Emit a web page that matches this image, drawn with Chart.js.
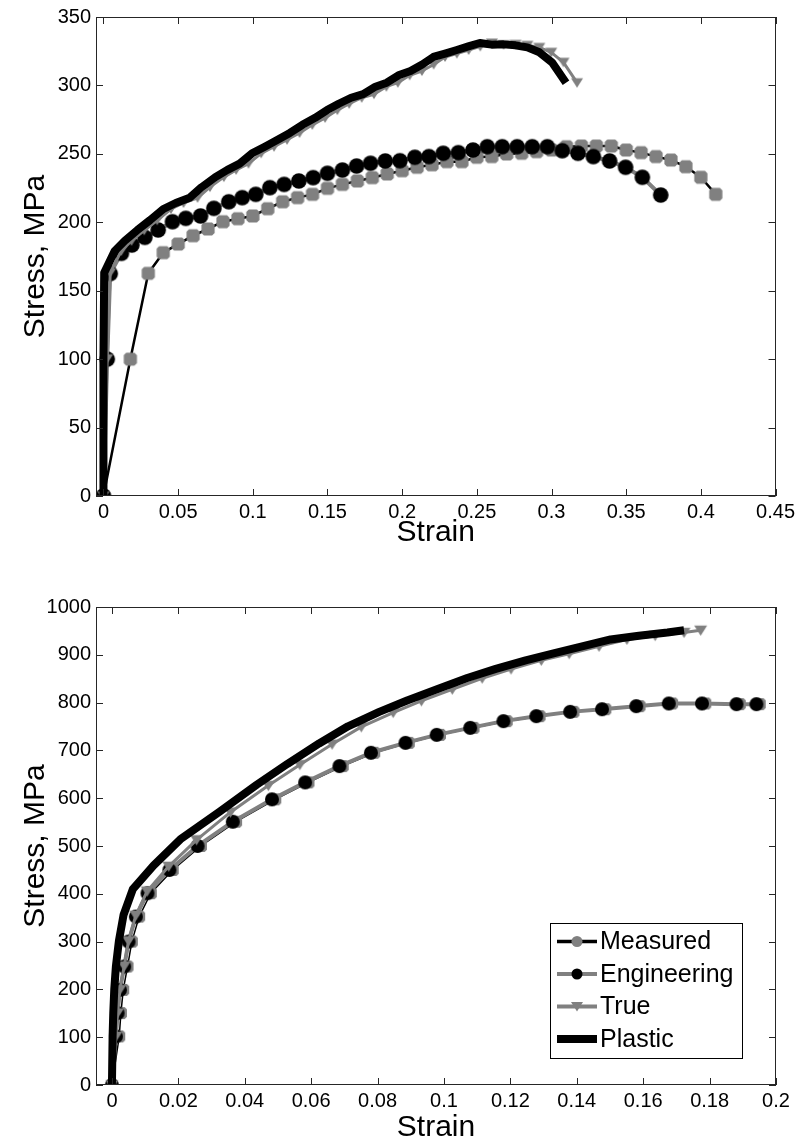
<!DOCTYPE html>
<html>
<head>
<meta charset="utf-8">
<script src="https://cdn.jsdelivr.net/npm/chart.js@4.4.1/dist/chart.umd.min.js"></script>
<style>
  body { margin: 0; background: #fff; overflow: hidden; }
  canvas { position: absolute; left: 0; }
</style>
</head>
<body>
<canvas id="topChart" width="799" height="570" style="top:0"></canvas>
<canvas id="bottomChart" width="799" height="571" style="top:570px"></canvas>
<script>
// ---- top panel (stress–strain to fracture) ----
const topMeasuredStrain = [0, 0.018, 0.030, 0.040, 0.050, 0.060, 0.070, 0.080, 0.090, 0.100, 0.110, 0.120, 0.130, 0.140, 0.150, 0.160, 0.170, 0.180, 0.190, 0.200, 0.210, 0.220, 0.230, 0.240, 0.250, 0.260, 0.270, 0.280, 0.290, 0.300, 0.310, 0.320, 0.330, 0.340, 0.350, 0.360, 0.370, 0.380, 0.390, 0.400, 0.410];
const topMeasuredStress = [0, 100, 162.7, 177.8, 184.1, 190.2, 195.1, 200.4, 202.6, 204.6, 209.9, 215.0, 218.0, 220.4, 224.8, 227.7, 230.2, 232.6, 235.3, 237.7, 240.2, 242.0, 244.3, 244.3, 247.5, 248.0, 249.9, 250.4, 251.6, 252.8, 255.2, 255.7, 255.7, 255.7, 252.8, 250.9, 248.0, 245.5, 240.6, 232.9, 220.4];

const topEngStrain = [0, 0.0025, 0.0045, 0.012, 0.019, 0.0277, 0.0366, 0.0462, 0.0551, 0.065, 0.0739, 0.0839, 0.0929, 0.102, 0.1114, 0.121, 0.1308, 0.1404, 0.150, 0.160, 0.1695, 0.1788, 0.1887, 0.1985, 0.2085, 0.2179, 0.2275, 0.2376, 0.2474, 0.257, 0.267, 0.277, 0.2871, 0.2972, 0.3072, 0.3177, 0.328, 0.3389, 0.3496, 0.3608, 0.3731];
const topEngStress = [0, 100, 162.5, 177.3, 183.4, 189, 194.4, 200.4, 202.9, 204.6, 210.2, 215, 218, 220.4, 225.3, 227.7, 230.2, 232.6, 235.8, 238.2, 241.1, 243.1, 244.8, 245, 247.5, 248, 250.4, 250.9, 252.8, 255.2, 255.2, 255.2, 255.2, 255.2, 252.3, 250.4, 248, 244.8, 240.2, 232.9, 219.9];

const topTrueStrain = [0, 0.0025, 0.0045, 0.0119, 0.0188, 0.0273, 0.036, 0.0452, 0.0536, 0.063, 0.0713, 0.0806, 0.0888, 0.0971, 0.1056, 0.1142, 0.1229, 0.1313, 0.1398, 0.1484, 0.1566, 0.1645, 0.1729, 0.1811, 0.1894, 0.1971, 0.205, 0.2132, 0.2211, 0.2287, 0.2366, 0.2445, 0.2523, 0.2601, 0.2679, 0.2759, 0.2838, 0.2918, 0.2998, 0.308, 0.3171];
const topTrueStress = [0, 100.3, 163.2, 179, 186.5, 194.2, 201.5, 209.7, 214.1, 217.9, 225.7, 233, 238.3, 242.9, 250.4, 255.2, 260.3, 265.3, 271.2, 276.3, 282, 286.6, 291, 293.6, 299.1, 302, 307.4, 310.5, 315.3, 320.8, 323.3, 325.9, 328.5, 331, 329.8, 330, 329.3, 327.8, 324.2, 316.9, 302];

const topPlasticStrain = [0, 0, 0.0005, 0.0075, 0.0143, 0.0226, 0.0311, 0.0401, 0.0484, 0.0577, 0.0658, 0.0749, 0.083, 0.0912, 0.0995, 0.108, 0.1166, 0.1248, 0.1332, 0.1417, 0.1497, 0.1575, 0.1658, 0.1739, 0.1821, 0.1897, 0.1975, 0.2056, 0.2134, 0.2209, 0.2287, 0.2366, 0.2443, 0.252, 0.2599, 0.2679, 0.2758, 0.2838, 0.2919, 0.3003, 0.3097];
const topPlasticStress = [0, 100.3, 163.2, 179, 186.5, 194.2, 201.5, 209.7, 214.1, 217.9, 225.7, 233, 238.3, 242.9, 250.4, 255.2, 260.3, 265.3, 271.2, 276.3, 282, 286.6, 291, 293.6, 299.1, 302, 307.4, 310.5, 315.3, 320.8, 323.3, 325.9, 328.5, 331, 329.8, 330, 329.3, 327.8, 324.2, 316.9, 302];

const topXTicks = [0, 0.05, 0.1, 0.15, 0.2, 0.25, 0.3, 0.35, 0.4, 0.45];
const topYTicks = [0, 50, 100, 150, 200, 250, 300, 350];

// ---- bottom panel (up to uniform elongation) ----
const botMeasuredStrain = [0, 0.0022, 0.0027, 0.0034, 0.0047, 0.006, 0.0082, 0.0117, 0.0183, 0.0268, 0.0374, 0.0492, 0.0592, 0.0695, 0.079, 0.0894, 0.0988, 0.1089, 0.1189, 0.1288, 0.139, 0.1486, 0.1589, 0.1687, 0.1787, 0.1891, 0.1951];
const botMeasuredStress = [0, 101.6, 150.4, 199, 247.8, 300, 352.3, 401.2, 449.8, 500, 550.8, 597.6, 633.1, 667.2, 695, 715.8, 732.5, 747.2, 761.2, 771.6, 780.6, 786.2, 792.5, 798.2, 798.2, 796.7, 796.7];

const botEngStrain = [0, 0.0012, 0.0017, 0.0024, 0.0037, 0.005, 0.0072, 0.0107, 0.0173, 0.0258, 0.0364, 0.0482, 0.0582, 0.0685, 0.078, 0.0884, 0.0978, 0.1079, 0.1179, 0.1278, 0.138, 0.1476, 0.1579, 0.1677, 0.1777, 0.1881, 0.1941];
const botEngStress = [0, 101.6, 150.4, 199, 247.8, 300, 352.3, 401.2, 449.8, 500, 550.8, 597.6, 633.1, 667.2, 695, 715.8, 732.5, 747.2, 761.2, 771.6, 780.6, 786.2, 792.5, 798.2, 798.2, 796.7, 796.7];

const botTrueStrain = [0, 0.0012, 0.0017, 0.0024, 0.0037, 0.005, 0.0072, 0.0106, 0.0171, 0.0255, 0.0357, 0.0471, 0.0566, 0.0663, 0.0751, 0.0847, 0.0932, 0.1025, 0.1115, 0.1202, 0.1293, 0.1377, 0.1467, 0.1551, 0.1636, 0.1723, 0.1773];
const botTrueStress = [0, 101.7, 150.6, 199.5, 248.7, 301.5, 354.8, 405.5, 457.5, 512.9, 570.8, 626.4, 670, 712.9, 749.2, 779.1, 803.5, 827.8, 851, 870.2, 888.3, 902.3, 917.6, 932.1, 940, 946.6, 951.3];

const botPlasticStrain = [0, 0.0002, 0.0004, 0.0007, 0.0012, 0.0021, 0.0035, 0.0063, 0.0125, 0.0206, 0.0325, 0.0436, 0.0529, 0.0624, 0.0711, 0.0805, 0.0889, 0.0981, 0.107, 0.1156, 0.1246, 0.133, 0.1419, 0.1502, 0.1587, 0.1673, 0.1723];
const botPlasticStress = [0, 101.7, 150.6, 199.5, 248.7, 301.5, 356, 410, 459, 514, 572, 628, 672, 714.5, 750.5, 780.5, 804.5, 828.5, 851.5, 870.5, 888.5, 903, 918, 932.1, 940, 946.6, 951.3];

const botXTicks = [0, 0.02, 0.04, 0.06, 0.08, 0.1, 0.12, 0.14, 0.16, 0.18, 0.2];
const botYTicks = [0, 100, 200, 300, 400, 500, 600, 700, 800, 900, 1000];

const seriesNames = ["Measured", "Engineering", "True", "Plastic"];

const GRAY = "#808080";
const FONT = "'Liberation Sans', Arial, Helvetica, sans-serif";
Chart.defaults.font.family = FONT;
Chart.defaults.color = "#000";

const pts = (xs, ys) => xs.map((x, i) => ({ x: x, y: ys[i] }));

// matlab-ish markers: octagon-ish square, circle, downward triangle
function drawMarker(ctx, style, r, x, y, color) {
  ctx.fillStyle = color;
  ctx.beginPath();
  if (style === "circle") {
    ctx.arc(x, y, r, 0, Math.PI * 2);
  } else if (style === "triangle") {
    ctx.moveTo(x - r, y - r * 0.75);
    ctx.lineTo(x + r, y - r * 0.75);
    ctx.lineTo(x, y + r * 0.85);
    ctx.closePath();
  } else {
    const c = r * 0.38;
    const s = r;
    ctx.moveTo(x - s + c, y - s);
    ctx.lineTo(x + s - c, y - s);
    ctx.lineTo(x + s, y - s + c);
    ctx.lineTo(x + s, y + s - c);
    ctx.lineTo(x + s - c, y + s);
    ctx.lineTo(x - s + c, y + s);
    ctx.lineTo(x - s, y + s - c);
    ctx.lineTo(x - s, y - s + c);
    ctx.closePath();
  }
  ctx.fill();
}

function markerImage(style, r, color) {
  const c = document.createElement("canvas");
  const n = Math.ceil(r * 2 + 2);
  c.width = n;
  c.height = n;
  drawMarker(c.getContext("2d"), style, r, n / 2, n / 2, color);
  return c;
}

const makeDatasets = (m, e, t, p, big) => [
  {
    label: seriesNames[0],
    data: m,
    order: 3,
    borderColor: "#000",
    borderWidth: big ? 2.5 : 1.5,
    pointStyle: markerImage("octagon", big ? 6.6 : 6, GRAY),
    pointRadius: 6,
    legendMarker: "circle",
    legendRadius: 5.5,
    legendColor: GRAY,
    legendWidth: 3.5,
  },
  {
    label: seriesNames[1],
    data: e,
    order: 2,
    borderColor: GRAY,
    borderWidth: 4,
    pointStyle: markerImage("circle", big ? 7.8 : 7, "#000"),
    pointRadius: 7,
    legendMarker: "circle",
    legendRadius: 5.5,
    legendColor: "#000",
    legendWidth: 4,
  },
  {
    label: seriesNames[2],
    data: t,
    order: 1,
    borderColor: GRAY,
    borderWidth: 3,
    pointStyle: markerImage("triangle", big ? 6 : 6.5, GRAY),
    pointRadius: 6,
    legendMarker: "triangle",
    legendRadius: 6,
    legendColor: GRAY,
    legendWidth: 4,
  },
  {
    label: seriesNames[3],
    data: p,
    order: 0,
    borderColor: "#000",
    borderWidth: 8,
    pointRadius: 0,
    legendMarker: null,
    legendWidth: 8,
  },
];

// axes box with inward ticks on all four sides
const frame = {
  id: "frame",
  afterDatasetsDraw(chart) {
    const { ctx, chartArea: a, scales } = chart;
    const x = scales.x, y = scales.y;
    ctx.save();
    ctx.strokeStyle = "#262626";
    ctx.lineWidth = 1;
    ctx.beginPath();
    x.ticks.forEach((t) => {
      const px = Math.round(x.getPixelForValue(t.value)) + 0.5;
      ctx.moveTo(px, a.bottom); ctx.lineTo(px, a.bottom - 7);
      ctx.moveTo(px, a.top); ctx.lineTo(px, a.top + 7);
    });
    y.ticks.forEach((t) => {
      const py = Math.round(y.getPixelForValue(t.value)) + 0.5;
      ctx.moveTo(a.left, py); ctx.lineTo(a.left + 7, py);
      ctx.moveTo(a.right, py); ctx.lineTo(a.right - 7, py);
    });
    ctx.stroke();
    ctx.strokeRect(Math.round(a.left) + 0.5, Math.round(a.top) + 0.5, Math.round(a.width) - 1, Math.round(a.height) - 1);
    ctx.restore();
  },
};

// legend box drawn inside the plot, lower right
const boxLegend = {
  id: "boxLegend",
  afterDraw(chart, args, opts) {
    if (!opts || !opts.show) return;
    const { ctx, chartArea: a } = chart;
    const w = opts.width, h = opts.height;
    const x0 = a.right - opts.right - w;
    const y0 = a.bottom - opts.bottom - h;
    ctx.save();
    ctx.fillStyle = "#fff";
    ctx.fillRect(x0, y0, w, h);
    ctx.strokeStyle = "#000";
    ctx.lineWidth = 1;
    ctx.strokeRect(Math.round(x0) + 0.5, Math.round(y0) + 0.5, w, h);
    ctx.font = opts.fontSize + "px " + FONT;
    ctx.textBaseline = "middle";
    ctx.textAlign = "left";
    chart.data.datasets.forEach((ds, i) => {
      const ry = y0 + opts.firstRow + i * opts.rowHeight;
      const lx = x0 + 7;
      ctx.strokeStyle = ds.borderColor;
      ctx.lineWidth = ds.legendWidth;
      ctx.lineCap = "butt";
      ctx.beginPath();
      ctx.moveTo(lx, ry);
      ctx.lineTo(lx + 40, ry);
      ctx.stroke();
      if (ds.legendMarker) {
        drawMarker(ctx, ds.legendMarker, ds.legendRadius, lx + 20, ry, ds.legendColor);
      }
      ctx.fillStyle = "#000";
      ctx.fillText(ds.label, lx + 43, ry + 1);
    });
    ctx.restore();
  },
};

const makeOptions = (cfg) => ({
  responsive: false,
  animation: false,
  events: [],
  layout: { padding: { top: cfg.padTop, right: cfg.padRight, left: 0, bottom: 0 } },
  elements: { line: { tension: 0, borderJoinStyle: "round" } },
  plugins: {
    legend: { display: false },
    tooltip: { enabled: false },
    boxLegend: cfg.legend || { show: false },
  },
  scales: {
    x: {
      type: "linear",
      min: cfg.xMin,
      max: cfg.xMax,
      grid: { display: false, drawTicks: false },
      border: { display: false },
      afterBuildTicks: (s) => { s.ticks = cfg.xTicks.map((v) => ({ value: v })); },
      afterFit: (s) => { s.height = cfg.xAxisHeight; },
      ticks: {
        autoSkip: false,
        maxRotation: 0,
        padding: 4,
        font: { size: 20 },
        color: "#000",
        callback: (v) => String(v),
      },
      title: {
        display: true,
        text: "Strain",
        font: { size: 30 },
        color: "#000",
        padding: { top: 0, bottom: cfg.xTitlePad },
      },
    },
    y: {
      type: "linear",
      min: cfg.yMin,
      max: cfg.yMax,
      grid: { display: false, drawTicks: false },
      border: { display: false },
      afterBuildTicks: (s) => { s.ticks = cfg.yTicks.map((v) => ({ value: v })); },
      afterFit: (s) => { s.width = 96; },
      ticks: {
        padding: 5,
        font: { size: 20 },
        color: "#000",
        callback: (v) => String(v),
      },
      title: {
        display: true,
        text: "Stress, MPa",
        font: { size: 30 },
        color: "#000",
        padding: { top: 18, bottom: 0 },
      },
    },
  },
});

new Chart(document.getElementById("topChart"), {
  type: "scatter",
  data: {
    datasets: makeDatasets(
      pts(topMeasuredStrain, topMeasuredStress),
      pts(topEngStrain, topEngStress),
      pts(topTrueStrain, topTrueStress),
      pts(topPlasticStrain, topPlasticStress),
      true
    ).map((d) => Object.assign(d, { showLine: true })),
  },
  options: makeOptions({
    padTop: 17, padRight: 22,
    xMin: -0.005, xMax: 0.45, xTicks: topXTicks,
    yMin: 0, yMax: 350, yTicks: topYTicks,
    xAxisHeight: 74, xTitlePad: 19,
  }),
  plugins: [frame, boxLegend],
});

new Chart(document.getElementById("bottomChart"), {
  type: "scatter",
  data: {
    datasets: makeDatasets(
      pts(botMeasuredStrain, botMeasuredStress),
      pts(botEngStrain, botEngStress),
      pts(botTrueStrain, botTrueStress),
      pts(botPlasticStrain, botPlasticStress),
      false
    ).map((d) => Object.assign(d, { showLine: true })),
  },
  options: makeOptions({
    padTop: 37, padRight: 23,
    xMin: -0.0048, xMax: 0.2, xTicks: botXTicks,
    yMin: 0, yMax: 1000, yTicks: botYTicks,
    xAxisHeight: 56, xTitlePad: -5,
    legend: { show: true, right: 34, bottom: 27, width: 192, height: 135, firstRow: 18.5, rowHeight: 32.5, fontSize: 25 },
  }),
  plugins: [frame, boxLegend],
});
</script>
</body>
</html>
